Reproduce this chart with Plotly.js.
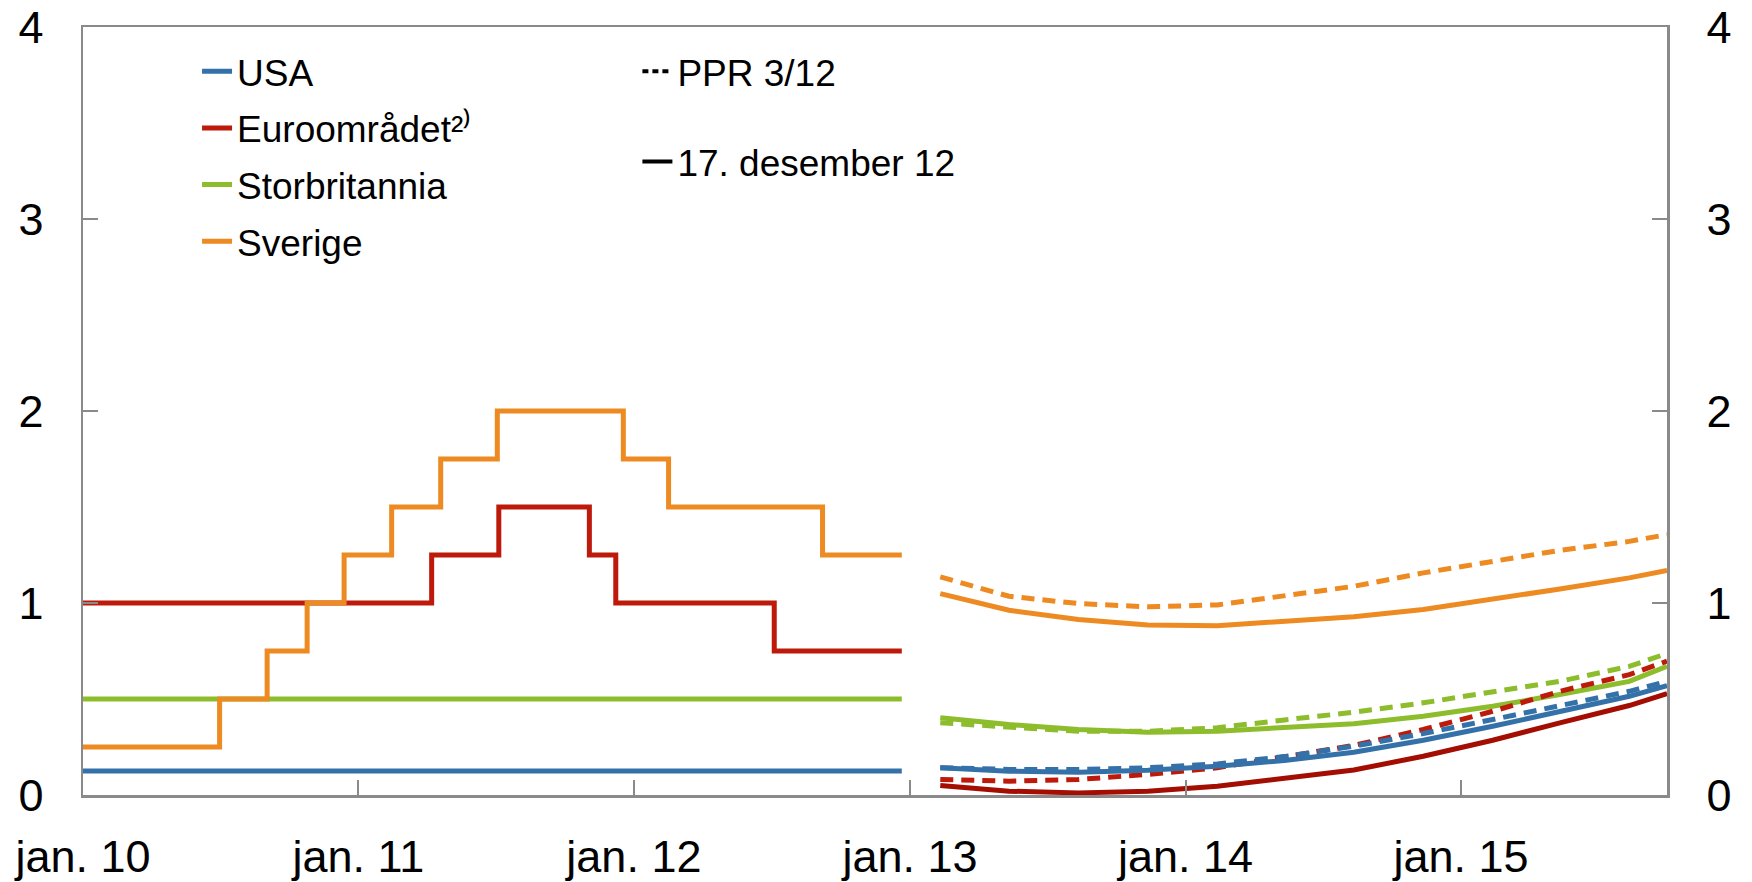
<!DOCTYPE html>
<html><head><meta charset="utf-8">
<script src="https://cdn.plot.ly/plotly-3.0.1.min.js"></script>
<style>html,body{margin:0;padding:0;background:#fff}#chart{width:1752px;height:882px}</style>
</head><body><div id="chart"></div><script>
// ---- data ----
const tickDates = ['2010-01-01','2011-01-01','2012-01-01','2013-01-01','2014-01-01','2015-01-01'];
const tickLabels = ['jan. 10','jan. 11','jan. 12','jan. 13','jan. 14','jan. 15'];

const histStart = '2010-01-01';
const histEnd = '2012-12-21';
const usaHistDates = [histStart, histEnd];
const usaHist = [0.125, 0.125];
const ukHistDates = [histStart, histEnd];
const ukHist = [0.5, 0.5];
const euroHistDates = ['2010-01-01','2011-04-08','2011-07-06','2011-11-03','2011-12-08','2012-07-05','2012-12-21'];
const euroHist = [1.0, 1.25, 1.5, 1.25, 1.0, 0.75, 0.75];
const sweHistDates = ['2010-01-01','2010-07-01','2010-09-02','2010-10-25','2010-12-13','2011-02-14','2011-04-20','2011-07-04','2011-12-18','2012-02-16','2012-09-07','2012-12-21'];
const sweHist = [0.25, 0.5, 0.75, 1.0, 1.25, 1.5, 1.75, 2.0, 1.75, 1.5, 1.25, 1.25];

const fwdDates = ['2013-02-10','2013-05-12','2013-08-12','2013-11-12','2014-02-12','2014-05-12','2014-08-12','2014-11-12','2015-02-12','2015-05-12','2015-08-12','2015-10-01'];
// PPR 3/12 (dashed)
const usaPPR  = [0.142,0.133,0.133,0.142,0.162,0.200,0.254,0.320,0.393,0.466,0.540,0.592];
const euroPPR = [0.081,0.072,0.081,0.107,0.142,0.200,0.258,0.341,0.436,0.540,0.627,0.697];
const ukPPR   = [0.376,0.353,0.332,0.332,0.350,0.391,0.431,0.480,0.535,0.592,0.670,0.737];
const swePPR  = [1.136,1.035,0.997,0.980,0.990,1.035,1.087,1.157,1.217,1.274,1.321,1.356];
// 17. desember 12 (solid)
const usaDec  = [0.142,0.124,0.119,0.129,0.150,0.180,0.223,0.285,0.358,0.436,0.514,0.570];
const euroDec = [0.050,0.020,0.011,0.020,0.046,0.085,0.130,0.202,0.285,0.376,0.466,0.528];
const ukDec   = [0.402,0.367,0.341,0.327,0.332,0.352,0.371,0.410,0.462,0.523,0.592,0.670];
const sweDec  = [1.049,0.962,0.914,0.886,0.882,0.905,0.928,0.966,1.018,1.073,1.131,1.170];

const names = {usa:'USA', euro:'Euroområdet²⁾', uk:'Storbritannia', swe:'Sverige', ppr:'PPR 3/12', dec:'17. desember 12'};

// ---- styles ----
const C = {usa:'#3571a9', euro:'#bd1a0b', euroDark:'#a30d02', uk:'#8dbd2c', swe:'#ed8a21'};
const W = 5;
const DASH = '13px,8px';

function hist(x, y, color, name, grp) {
  return {x, y, type:'scatter', mode:'lines', name, legend:'legend', legendgroup:grp,
          line:{color, width:W, shape:'hv'}, hoverinfo:'skip'};
}
function fwd(y, color, dash) {
  return {x:fwdDates, y, type:'scatter', mode:'lines', showlegend:false,
          line:{color, width:W, dash, shape:'linear'}, hoverinfo:'skip'};
}

const traces = [
  hist(usaHistDates, usaHist, C.usa, names.usa, 'g1'),
  hist(euroHistDates, euroHist, C.euro, names.euro, 'g2'),
  hist(ukHistDates, ukHist, C.uk, names.uk, 'g3'),
  hist(sweHistDates, sweHist, C.swe, names.swe, 'g4'),
  fwd(sweDec, C.swe, 'solid'),
  fwd(swePPR, C.swe, DASH),
  fwd(ukDec, C.uk, 'solid'),
  fwd(ukPPR, C.uk, DASH),
  fwd(euroDec, C.euroDark, 'solid'),
  fwd(euroPPR, C.euro, DASH),
  fwd(usaDec, C.usa, 'solid'),
  fwd(usaPPR, C.usa, DASH),
  {x:[null], y:[null], type:'scatter', mode:'lines', name:names.ppr, legend:'legend2', legendgroup:'h1',
   yaxis:'y2', line:{color:'#000', width:4, dash:'6px,4px'}, hoverinfo:'skip'},
  {x:[null], y:[null], type:'scatter', mode:'lines', name:names.dec, legend:'legend2', legendgroup:'h2',
   yaxis:'y2', line:{color:'#000', width:4}, hoverinfo:'skip'}
];

const FONT = 'Liberation Sans, Arial, sans-serif';
const axisCol = '#8a8a8a';
const TICKSIZE = 45;
const LEGSIZE = 37;
const yax = {range:[0,4], dtick:1, tick0:0, ticks:'inside', ticklen:15, tickwidth:2, tickcolor:axisCol,
  showline:true, linecolor:axisCol, linewidth:2.5, showgrid:false, zeroline:false,
  tickfont:{family:FONT, size:TICKSIZE, color:'#000'}, ticklabelstandoff:28, fixedrange:true};

const layout = {
  width:1752, height:882,
  margin:{l:83, r:85, t:27, b:87, pad:0},
  paper_bgcolor:'#fff', plot_bgcolor:'#fff',
  font:{family:FONT, color:'#000'},
  showlegend:true,
  xaxis:{type:'date', range:['2010-01-01','2015-10-01'], tickmode:'array', tickvals:tickDates, ticktext:tickLabels,
    ticks:'inside', ticklen:15, tickwidth:2, tickcolor:axisCol, showline:true, linecolor:axisCol, linewidth:2.5,
    mirror:true, showgrid:false, zeroline:false, tickfont:{family:FONT, size:TICKSIZE, color:'#000'},
    ticklabelstandoff:20, fixedrange:true},
  yaxis:Object.assign({}, yax, {side:'left'}),
  yaxis2:Object.assign({}, yax, {side:'right', overlaying:'y', anchor:'x'}),
  legend:{x:0.072, y:0.982, xanchor:'left', yanchor:'top', bgcolor:'rgba(0,0,0,0)', borderwidth:0,
    font:{family:FONT, size:LEGSIZE, color:'#000'}, traceorder:'grouped', tracegroupgap:5.5, itemwidth:30},
  legend2:{x:0.350, y:0.982, xanchor:'left', yanchor:'top', bgcolor:'rgba(0,0,0,0)', borderwidth:0,
    font:{family:FONT, size:LEGSIZE, color:'#000'}, traceorder:'grouped', tracegroupgap:39, itemwidth:30}
};

Plotly.newPlot('chart', traces, layout, {displayModeBar:false, staticPlot:true});
</script></body></html>
